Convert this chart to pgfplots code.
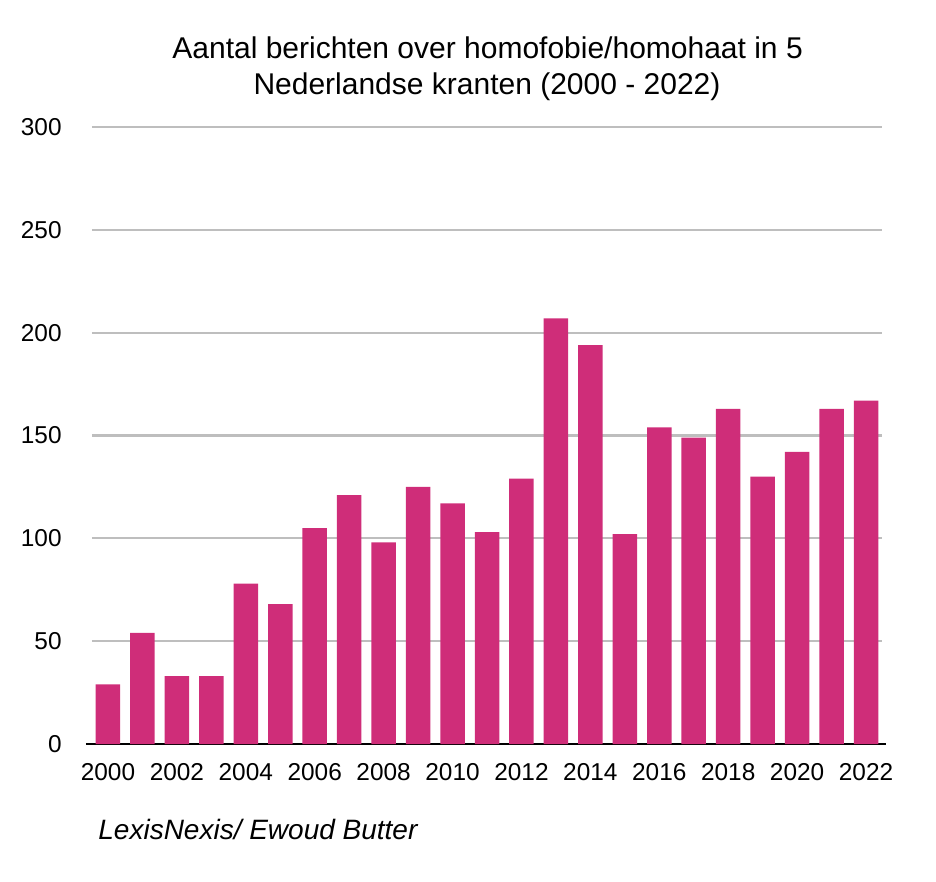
\documentclass[border=0pt]{standalone}
\usepackage{fontspec}
\setmainfont{Liberation Sans}
\usepackage{pgfplots}
\pgfplotsset{compat=1.18}

\definecolor{barpink}{RGB}{207,45,121}
\definecolor{gridgray}{RGB}{190,190,190}

\begin{document}
\begin{tikzpicture}
\useasboundingbox (-46bp,-69bp) rectangle (422bp,372bp);

\begin{axis}[%
scale only axis,
width=395bp,
height=308.5bp,
at={(0,0)},
anchor=south west,
ymin=0, ymax=300,
ytick={0,50,...,300},
xmin=1999.536, xmax=2022.464,
xtick={2000,2002,...,2022},
major tick length=0pt,
axis lines*=left,
x axis line style={black, line width=1.2bp, shorten <=-3bp, shorten >=-2bp},
y axis line style={draw=none},
ymajorgrids,
grid style={gridgray, line width=1.1bp},
tick label style={font=\fontsize{12.2bp}{14bp}\selectfont, inner sep=0pt},
yticklabel style={anchor=east, xshift=-15bp},
xticklabel style={anchor=north, yshift=-9.5bp},
/pgf/number format/assume math mode=true,
/pgf/number format/1000 sep={},
clip=false]

\addplot [
ybar,
bar width=0.711,
fill=barpink,
draw=none
]
coordinates{
(2000,29)(2001,54)(2002,33)(2003,33)(2004,78)(2005,68)(2006,105)(2007,121)
(2008,98)(2009,125)(2010,117)(2011,103)(2012,129)(2013,207)(2014,194)
(2015,102)(2016,154)(2017,149)(2018,163)(2019,130)(2020,142)(2021,163)(2022,167)
};

\end{axis}

% title and source
\node[anchor=base, inner sep=0pt, font=\fontsize{15bp}{18bp}\selectfont]
  at (197.8bp,342.5bp) {Aantal berichten over homofobie/homohaat in 5};
\node[anchor=base, inner sep=0pt, font=\fontsize{15bp}{18bp}\selectfont]
  at (197.5bp,324.5bp) {Nederlandse kranten (2000 - 2022)};
\node[anchor=base west, inner sep=0pt, font=\fontsize{14bp}{17bp}\selectfont\itshape]
  at (3bp,-47.5bp) {LexisNexis/ Ewoud Butter};
\end{tikzpicture}
\end{document}
